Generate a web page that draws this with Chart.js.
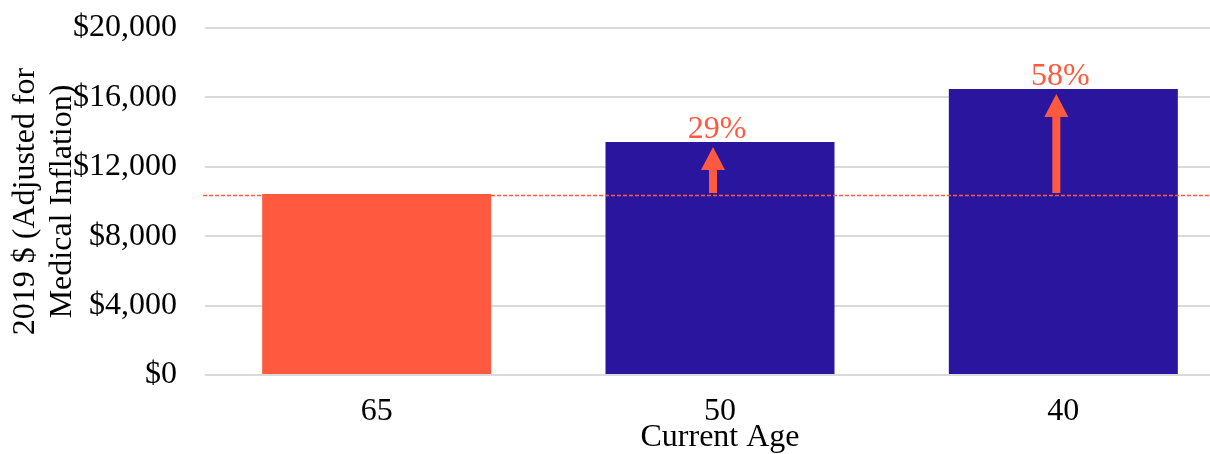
<!DOCTYPE html>
<html>
<head>
<meta charset="utf-8">
<script src="https://cdn.jsdelivr.net/npm/chart.js@4/dist/chart.umd.min.js"></script>
<style>
  html, body { margin: 0; padding: 0; background: #fff; overflow: hidden; }
  #wrap { width: 1236px; height: 454px; position: relative; }
</style>
</head>
<body>
<div id="wrap"><canvas id="chart"></canvas></div>
<script>
const ages = ["65", "50", "40"];
const costs = [10430, 13430, 16480];
const barColors = ["#FF5A40", "#2A159F", "#2A159F"];
const pctLabels = ["", "29%", "58%"];
const yTitle = ["2019 $ (Adjusted for", "Medical Inflation)"];
const xTitle = "Current Age";

const ORANGE = "#FF5A40";
const FONT = "'Liberation Serif', 'Times New Roman', serif";

// dashed baseline at the age-65 level, arrows + % increase above the other bars
const arrowPlugin = {
  id: "arrows",
  afterDatasetsDraw(chart) {
    const ctx = chart.ctx;
    const y = chart.scales.y;
    const meta = chart.getDatasetMeta(0);
    const baseY = y.getPixelForValue(costs[0]);
    const dashY = Math.round(baseY) + 1.5;

    ctx.save();
    ctx.strokeStyle = ORANGE;
    ctx.lineWidth = 1.4;
    ctx.setLineDash([4, 2]);
    ctx.beginPath();
    ctx.moveTo(chart.chartArea.left - 2, dashY);
    ctx.lineTo(chart.width, dashY);
    ctx.stroke();
    ctx.setLineDash([]);

    for (let i = 1; i < costs.length; i++) {
      const bar = meta.data[i];
      const cx = bar.x - 7;
      const tip = bar.y + 5;
      const headBase = tip + 23;
      const bottom = baseY - 1;

      ctx.fillStyle = ORANGE;
      ctx.fillRect(cx - 4, headBase, 8, bottom - headBase);
      ctx.beginPath();
      ctx.moveTo(cx, tip);
      ctx.lineTo(cx + 12, headBase);
      ctx.lineTo(cx - 12, headBase);
      ctx.closePath();
      ctx.fill();

      ctx.font = "32px " + FONT;
      ctx.textAlign = "center";
      ctx.textBaseline = "alphabetic";
      ctx.fillText(pctLabels[i], bar.x - 3, bar.y - 4);
    }
    ctx.restore();
  },
};

new Chart(document.getElementById("chart"), {
  type: "bar",
  data: {
    labels: ages,
    datasets: [
      {
        data: costs,
        backgroundColor: barColors,
        borderWidth: 0,
        barPercentage: 0.667,
        categoryPercentage: 1,
      },
    ],
  },
  options: {
    responsive: true,
    maintainAspectRatio: false,
    animation: false,
    layout: { padding: { top: 28, left: 0, right: 1, bottom: 0 } },
    plugins: {
      legend: { display: false },
      tooltip: { enabled: false },
    },
    scales: {
      y: {
        min: 0,
        max: 20000,
        border: { display: false },
        grid: { color: "#dadada", lineWidth: 2, drawTicks: false },
        ticks: {
          stepSize: 4000,
          padding: 28,
          color: "#000",
          font: { family: FONT, size: 32 },
          callback: (v) => "$" + v.toLocaleString("en-US"),
        },
        title: {
          display: true,
          text: yTitle,
          color: "#000",
          font: { family: FONT, size: 32, lineHeight: 1.16 },
          padding: { top: 7, bottom: 0 },
        },
        afterFit: (scale) => {
          scale.width = 205;
          scale.paddingTop = 0;
          scale.paddingBottom = 0;
        },
      },
      x: {
        border: { display: false },
        grid: { display: false, drawTicks: false },
        ticks: {
          padding: 17,
          color: "#000",
          font: { family: FONT, size: 32 },
        },
        title: {
          display: true,
          text: xTitle,
          color: "#000",
          font: { family: FONT, size: 32, lineHeight: 1 },
          padding: { top: 0, bottom: 0 },
        },
        afterFit: (scale) => {
          scale.height = 79;
          scale.paddingTop = 0;
        },
      },
    },
  },
  plugins: [arrowPlugin],
});
</script>
</body>
</html>
